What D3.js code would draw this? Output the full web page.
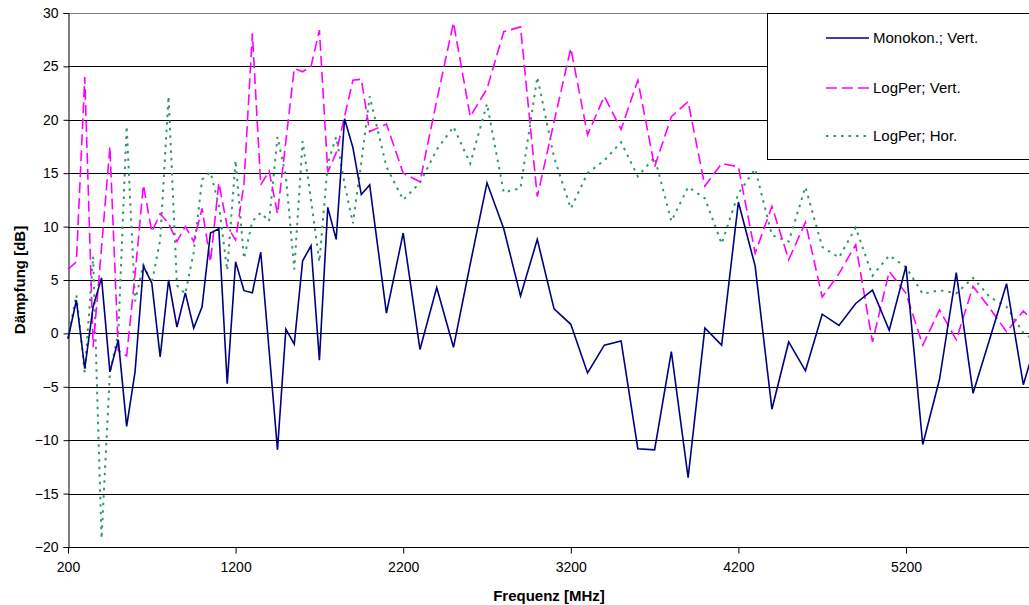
<!DOCTYPE html>
<html>
<head>
<meta charset="utf-8">
<script src="https://cdn.jsdelivr.net/npm/d3@7"></script>
<style>
    body { margin: 0; background: #fff; }
    svg { display: block; font-family: Arial, "Liberation Sans", sans-serif; }
</style>
</head>
<body>
<div id="chart"></div>
<script>
// Frequencies [MHz]
var freqs = [200, 250, 300, 350, 400, 450, 500, 550, 600, 650, 700, 750, 800, 850, 900, 950,
    1000, 1050, 1100, 1150, 1200, 1250, 1300, 1350, 1400, 1450, 1500, 1550, 1600, 1650, 1700,
    1750, 1800, 1850, 1900, 1950, 2000, 2100, 2200, 2300, 2400, 2500, 2600, 2700, 2800, 2900,
    3000, 3100, 3200, 3300, 3400, 3500, 3600, 3700, 3800, 3900, 4000, 4100, 4200, 4300, 4400,
    4500, 4600, 4700, 4800, 4900, 5000, 5100, 5200, 5300, 5400, 5500, 5600, 5700, 5800, 5900, 6000];

// Damping values [dB]
var monokonVert = [-0.5, 3.1, -3.3, 2.5, 5.2, -3.6, -0.6, -8.7, -3.6, 6.3, 4.7, -2.2, 5.0, 0.6, 3.8, 0.5,
    2.5, 9.4, 9.8, -4.7, 6.7, 4.0, 3.8, 7.6, -1.6, -10.9, 0.4, -1.0, 6.8, 8.2, -2.5,
    11.8, 8.8, 20.1, 17.4, 13.0, 13.9, 1.9, 9.4, -1.5, 4.3, -1.3, 6.5, 14.1, 9.8, 3.5,
    8.8, 2.3, 0.85, -3.7, -1.1, -0.7, -10.8, -10.9, -1.7, -13.5, 0.5, -1.1, 12.3, 6.3, -7.1,
    -0.8, -3.5, 1.8, 0.75, 2.8, 4.05, 0.3, 6.3, -10.4, -4.3, 5.7, -5.6, -0.5, 4.65, -4.8, 0.5];

var logPerVert = [6.0, 6.7, 24.0, -1.3, 8.0, 17.5, -1.6, -2.1, 5.5, 13.9, 9.5, 11.2, 10.3, 8.6, 10.0, 8.6,
    11.7, 6.7, 14.1, 10.0, 8.75, 14.0, 28.1, 13.9, 15.2, 11.2, 18.0, 24.8, 24.5, 25.0, 28.4,
    15.1, 16.9, 20.3, 23.7, 23.8, 18.9, 19.6, 15.0, 14.2, 21.8, 29.1, 20.3, 22.9, 28.25, 28.7,
    12.8, 19.8, 26.7, 18.6, 22.2, 19.1, 23.7, 15.6, 20.3, 21.7, 13.8, 15.9, 15.6, 7.5, 11.9,
    6.9, 10.4, 3.4, 5.6, 8.3, -0.8, 5.8, 3.75, -1.1, 2.2, -0.6, 4.4, 2.35, 0.15, 2.1, 0.5];

var logPerHor = [-0.5, 3.6, -3.7, 7.2, -19.2, -3.7, 0.0, 19.4, 3.0, 6.4, 4.7, 8.75, 22.2, 4.5, 3.7, 7.6,
    14.4, 15.1, 12.0, 5.9, 16.2, 7.0, 10.5, 11.3, 10.5, 18.4, 14.7, 6.0, 18.0, 12.5, 6.7,
    15.9, 18.4, 14.0, 10.3, 16.0, 22.2, 15.6, 12.5, 14.1, 17.2, 19.35, 15.9, 21.5, 13.2, 13.6,
    24.0, 16.5, 11.7, 15.0, 16.2, 17.9, 14.7, 16.5, 10.5, 13.7, 12.65, 8.4, 13.1, 15.4, 9.2,
    8.6, 13.7, 8.1, 7.1, 9.9, 5.4, 7.3, 6.2, 3.7, 4.05, 3.75, 5.2, 3.4, 2.5, 0.05, -1.0];

// Axis ticks
var xTicks = [200, 1200, 2200, 3200, 4200, 5200];
var yTicks = [-20, -15, -10, -5, 0, 5, 10, 15, 20, 25, 30];

var seriesNames = ["Monokon.; Vert.", "LogPer; Vert.", "LogPer; Hor."];

(function () {

    var width = 1029, height = 605;
    var left = 68, top = 13, bottom = 547;

    var svg = d3.select("#chart").append("svg")
        .attr("width", width).attr("height", height);

    // Scales: plot area continues past the right edge of the picture
    var x = d3.scaleLinear().domain([200, 6000]).range([left, left + 5800 * 0.1676]);
    var y = d3.scaleLinear().domain([-20, 30]).range([bottom, top]);

    // Gridlines
    svg.append("g")
        .selectAll("line")
        .data(yTicks.filter(function(d) { return d > -20; }))
        .enter()
        .append("line")
        .attr("x1", left).attr("x2", width)
        .attr("y1", function(d) { return Math.round(y(d)) + 0.5; })
        .attr("y2", function(d) { return Math.round(y(d)) + 0.5; })
        .style("stroke", function(d) { return d === 30 ? "#808080" : "#000"; })
        .style("stroke-width", 1);

    // Y axis
    var yAxis = svg.append("g")
        .attr("transform", "translate(" + (left + 0.5) + ",0)")
        .call(d3.axisLeft(y).tickValues(yTicks).tickSize(5).tickPadding(5).tickFormat(d3.format("d")));
    yAxis.selectAll("text").style("font-size", "14px").style("fill", "#000");
    yAxis.selectAll("line").style("stroke", "#000");
    yAxis.select(".domain").style("stroke", "#000");

    // X axis
    var xAxis = svg.append("g")
        .attr("transform", "translate(0," + (bottom + 0.5) + ")")
        .call(d3.axisBottom(x).tickValues(xTicks).tickSize(6).tickPadding(9).tickFormat(d3.format("d")));
    xAxis.selectAll("text").style("font-size", "14px").style("fill", "#000");
    xAxis.selectAll("line").style("stroke", "#000");
    xAxis.select(".domain").attr("d", "M" + left + ",0H" + width).style("stroke", "#000");

    // Axis titles
    svg.append("text")
        .attr("x", 549).attr("y", 601)
        .attr("text-anchor", "middle")
        .style("font-size", "15px").style("font-weight", "bold")
        .text("Frequenz [MHz]");
    svg.append("text")
        .attr("transform", "translate(25,280) rotate(-90)")
        .attr("text-anchor", "middle")
        .style("font-size", "15px").style("font-weight", "bold")
        .text("Dämpfung [dB]");

    // Lines
    var series = [
        {values: monokonVert, color: "#000080", dash: null, w: 1.6},
        {values: logPerVert, color: "#ff00ff", dash: "11,5", w: 1.6},
        {values: logPerHor, color: "#339966", dash: "2.5,5", w: 2}
    ];

    var line = d3.line()
        .x(function(d, i) { return x(freqs[i]); })
        .y(function(d) { return y(d); });

    // draw in reverse so the solid line stays on top
    series.slice().reverse().forEach(function(s) {
        svg.append("path")
            .datum(s.values)
            .attr("d", line)
            .style("fill", "none")
            .style("stroke", s.color)
            .style("stroke-width", s.w)
            .style("stroke-dasharray", s.dash)
            .style("stroke-linejoin", "miter");
    });

    // Legend
    var legend = svg.append("g");
    legend.append("rect")
        .attr("x", 767.5).attr("y", 13.5)
        .attr("width", 300).attr("height", 146)
        .style("fill", "#fff").style("stroke", "#000");

    var rowY = [38, 88, 136];
    series.forEach(function(s, i) {
        legend.append("line")
            .attr("x1", 826).attr("x2", 869)
            .attr("y1", rowY[i]).attr("y2", rowY[i])
            .style("stroke", s.color)
            .style("stroke-width", s.w)
            .style("stroke-dasharray", s.dash);
        legend.append("text")
            .attr("x", 873).attr("y", rowY[i] + 5)
            .style("font-size", "15px")
            .text(seriesNames[i]);
    });
})();
</script>
</body>
</html>
